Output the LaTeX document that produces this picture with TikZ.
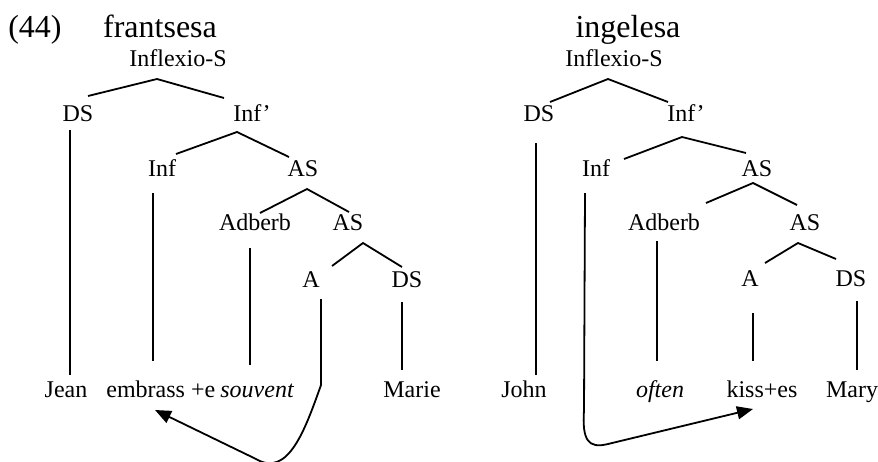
\documentclass[tikz,border=0pt]{standalone}
\usepackage{fontspec}
\setmainfont{Liberation Serif}
\usetikzlibrary{arrows.meta}
\begin{document}
\begin{tikzpicture}[x=0.5pt,y=-0.5pt,
  lab/.style={anchor=base,inner sep=0pt,font=\fontsize{12}{14}\selectfont},
  big/.style={anchor=base,inner sep=0pt,font=\fontsize{16}{19}\selectfont},
  br/.style={line width=0.9pt},
  mv/.style={line width=0.9pt,-{Triangle[length=8pt,width=6.5pt]}}]
\useasboundingbox (0,0) rectangle (878,461);
% headings
\node[big] (num) at (35,37) {(44)};
\node[big] (fr) at (160,37) {frantsesa};
\node[big] (en) at (628,37) {ingelesa};
% ---------- left tree ----------
\node[lab] (Lroot) at (178,66) {Inflexio-S};
\node[lab] (Lds) at (78,121) {DS};
\node[lab] (Linfb) at (252,121) {Inf’};
\node[lab] (Linf) at (162,176) {Inf};
\node[lab] (Las) at (303,176) {AS};
\node[lab] (Ladv) at (255,230) {Adberb};
\node[lab] (Las2) at (348,230) {AS};
\node[lab] (La) at (311,287) {A};
\node[lab] (Lds2) at (407,287) {DS};
\node[lab] (Ljean) at (66,397) {Jean};
\node[lab,anchor=base west] (Lemb) at (106,397) {embrass +e};
\node[lab,anchor=base west] (Lsouv) at (220,397) {\textit{souvent}};
\node[lab] (Lmarie) at (412,397) {Marie};
\coordinate (L1) at (157,79);
\coordinate (L2) at (237,132);
\coordinate (L3) at (307,189);
\coordinate (L4) at (363,243);
\coordinate (Ltip) at (155,410);
\draw[br] (88,96) -- (L1) -- (224,98);
\draw[br] (176,154) -- (L2) -- (289,157);
\draw[br] (260,213) -- (L3) -- (349,212);
\draw[br] (332,266) -- (L4) -- (402,267);
\draw[br] (70,130) -- (70,375);
\draw[br] (153,193) -- (153,361);
\draw[br] (250,248) -- (250,365);
\draw[br] (402,302) -- (402,370);
\draw[mv] (321,299) -- (321,385) .. controls (305,430) and (288,478) .. (256,459) -- (Ltip);
% ---------- right tree ----------
\node[lab] (Rroot) at (614,66) {Inflexio-S};
\node[lab] (Rds) at (539,121) {DS};
\node[lab] (Rinfb) at (686,121) {Inf’};
\node[lab] (Rinf) at (596,176) {Inf};
\node[lab] (Ras) at (757,176) {AS};
\node[lab] (Radv) at (664,230) {Adberb};
\node[lab] (Ras2) at (805,230) {AS};
\node[lab] (Ra) at (750,286) {A};
\node[lab] (Rds2) at (851,286) {DS};
\node[lab] (Rjohn) at (524,397) {John};
\node[lab] (Roften) at (660,397) {\textit{often}};
\node[lab] (Rkiss) at (762,397) {kiss+es};
\node[lab] (Rmary) at (852,397) {Mary};
\coordinate (R1) at (608,79);
\coordinate (R2) at (682,137);
\coordinate (R3) at (753,183);
\coordinate (R4) at (798,243);
\coordinate (Rtip) at (753,409);
\draw[br] (550,102) -- (R1) -- (668,102);
\draw[br] (624,159) -- (R2) -- (746,153);
\draw[br] (706,203) -- (R3) -- (797,205);
\draw[br] (765,263) -- (R4) -- (836,259);
\draw[br] (536,143) -- (536,375);
\draw[br] (657,241) -- (657,361);
\draw[br] (753,313) -- (753,361);
\draw[br] (857,301) -- (857,370);
\draw[mv] (585,193) -- (584,410) .. controls (582,440) and (588,449) .. (608,444) -- (Rtip);
\end{tikzpicture}
\end{document}
